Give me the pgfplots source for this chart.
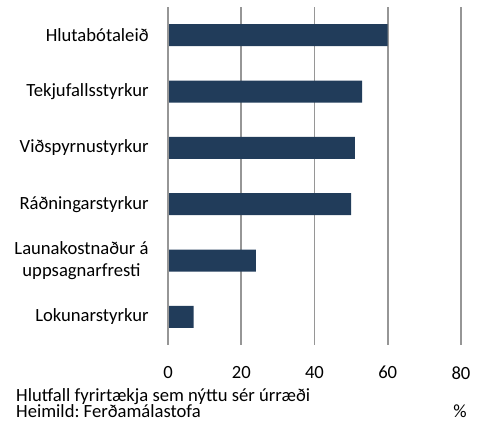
\documentclass[border=0pt]{standalone}
\usepackage{pgfplots}
\pgfplotsset{compat=1.18}
\usepackage{fontspec}
\setmainfont{Carlito}
\definecolor{barblue}{RGB}{33,60,90}
\definecolor{gridgray}{RGB}{150,150,150}
\begin{document}
\frenchspacing
\fontsize{18.7}{22.5}\selectfont
\begin{tikzpicture}
\useasboundingbox (-168bp,-83bp) rectangle (318bp,345bp);
\begin{axis}[
  at={(0,0)}, anchor=south west,
  scale only axis,
  width=293bp, height=338bp,
  xmin=0, xmax=80,
  ymin=-0.5, ymax=5.5,
  y dir=reverse,
  xtick={0,20,40,60,80},
  ytick={0,1,2,3,4,5},
  yticklabels={Hlutabótaleið,Tekjufallsstyrkur,Viðspyrnustyrkur,Ráðningarstyrkur,{Launakostnaður á\\uppsagnarfresti},Lokunarstyrkur},
  yticklabel style={align=center, anchor=east, xshift=-13bp, font=\fontsize{18.7}{22.5}\selectfont},
  xticklabel style={yshift=-15bp, font=\fontsize{18.7}{22.5}\selectfont},
  /pgf/number format/assume math mode=true,
  major tick length=0,
  axis line style={draw=none},
  xmajorgrids,
  grid style={gridgray, line width=1.6bp},
  xbar, bar width=22bp,
  clip=false,
]
\addplot[fill=barblue, draw=none] coordinates {
  (60,0) (53,1) (51,2) (50,3) (24,4) (7,5)
};
\draw[gridgray, line width=1.6bp] (axis cs:0,-0.5) -- (axis cs:0,5.5);
\end{axis}
\node[anchor=base west, inner sep=0] at (-152bp,-56bp) {Hlutfall fyrirtækja sem nýttu sér úrræði};
\node[anchor=base west, inner sep=0] at (-152bp,-72bp) {Heimild: Ferðamálastofa};
\node[inner sep=0] at (292bp,-66bp) {\%};
\end{tikzpicture}
\end{document}
